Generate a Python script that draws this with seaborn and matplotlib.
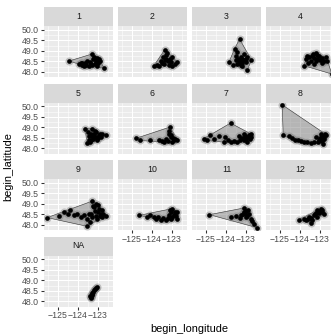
import numpy as np
import pandas as pd
import matplotlib
matplotlib.use("Agg")
import matplotlib.pyplot as plt
import seaborn as sns

sns.set_style("white")
plt.rcParams['font.family'] = ['Liberation Sans', 'DejaVu Sans']
plt.rcParams['axes.unicode_minus'] = True

# ---------------- data ----------------
months = ["1", "2", "3", "4", "5", "6", "7", "8", "9", "10", "11", "12", "NA"]

lon_m1 = [-124.45, -123.28, -122.70, -122.95, -123.95, -123.70, -123.37, -123.12, -123.53, -123.20, -123.03, -123.78, -123.85,
          -123.60, -123.45, -123.30, -123.15, -123.00, -123.10, -123.25, -123.40, -123.80, -123.65, -122.90, -123.05]
lat_m1 = [48.52, 48.86, 48.18, 48.62, 48.38, 48.30, 48.38, 48.46, 48.54, 48.70, 48.30, 48.41, 48.45,
          48.35, 48.30, 48.33, 48.38, 48.45, 48.55, 48.60, 48.47, 48.35, 48.45, 48.50, 48.68]
lon_m2 = [-123.37, -123.90, -122.73, -122.98, -123.57, -123.40, -123.07, -123.65, -123.23, -122.98, -123.30,
          -123.50, -123.35, -123.20, -123.10, -123.45, -123.30, -123.75, -123.15, -122.85]
lat_m2 = [49.05, 48.30, 48.46, 48.70, 48.54, 48.38, 48.46, 48.30, 48.89, 48.30, 48.62,
          48.45, 48.55, 48.50, 48.60, 48.70, 48.80, 48.35, 48.35, 48.40]
lon_m3 = [-123.32, -123.57, -123.85, -122.93, -122.73, -123.27, -123.10, -123.43, -123.02, -123.18, -123.52, -122.93, -123.65,
          -123.40, -123.30, -123.20, -123.10, -123.35, -123.50, -123.20, -123.00, -123.25, -123.45]
lat_m3 = [49.57, 49.10, 48.46, 48.10, 48.57, 48.70, 48.86, 48.38, 48.46, 48.30, 48.78, 48.70, 48.35,
          48.60, 48.50, 48.60, 48.55, 48.45, 48.55, 48.45, 48.60, 48.35, 48.95]
lon_m4 = [-123.80, -123.63, -123.22, -122.72, -122.63, -123.47, -123.13, -122.88, -123.30, -123.05, -123.55, -122.41,
          -123.70, -123.40, -123.30, -123.20, -123.00, -122.90, -123.60, -123.35, -122.80, -123.15]
lat_m4 = [48.30, 48.78, 48.89, 48.70, 48.54, 48.54, 48.62, 48.41, 48.38, 48.78, 48.70, 47.90,
          48.60, 48.75, 48.65, 48.50, 48.55, 48.65, 48.45, 48.85, 48.50, 48.80]
lon_m5 = [-123.65, -123.28, -123.53, -122.62, -123.37, -123.12, -123.20, -122.95, -123.37, -123.03, -122.78, -123.45,
          -123.30, -123.20, -123.10, -123.25, -123.00, -122.90, -123.45, -123.50, -123.15, -122.85, -123.40]
lat_m5 = [48.94, 48.94, 48.25, 48.62, 48.70, 48.78, 48.54, 48.62, 48.38, 48.41, 48.70, 48.57,
          48.60, 48.70, 48.55, 48.45, 48.50, 48.70, 48.40, 48.80, 48.85, 48.55, 48.30]
lon_m6 = [-124.77, -123.10, -124.07, -122.73, -123.15, -123.40, -123.65, -123.07, -122.90, -124.57,
          -123.30, -123.20, -122.95, -123.05, -123.50, -122.85, -123.15, -123.00]
lat_m6 = [48.49, 49.02, 48.41, 48.41, 48.70, 48.30, 48.38, 48.54, 48.38, 48.38,
          48.45, 48.35, 48.50, 48.65, 48.35, 48.45, 48.85, 48.30]
lon_m7 = [-125.10, -124.77, -123.77, -122.77, -122.80, -124.02, -124.35, -123.35, -124.10, -123.77, -123.43, -123.10, -123.10, -122.93, -124.93,
          -123.00, -122.85, -123.20, -122.95, -123.30, -123.60, -122.75, -123.05, -124.60, -123.90]
lat_m7 = [48.46, 48.65, 49.21, 48.70, 48.46, 48.54, 48.57, 48.57, 48.30, 48.30, 48.30, 48.38, 48.70, 48.54, 48.38,
          48.45, 48.62, 48.50, 48.30, 48.40, 48.35, 48.55, 48.60, 48.45, 48.40]
lon_m8 = [-124.88, -124.83, -124.55, -124.22, -123.97, -123.63, -123.30, -123.03, -122.95, -122.70, -122.85, -123.20, -122.78,
          -123.10, -122.90, -122.80, -123.00, -122.75, -123.45, -123.80, -124.10, -124.40, -122.90]
lat_m8 = [50.08, 48.62, 48.59, 48.41, 48.35, 48.30, 48.30, 48.38, 48.70, 48.62, 48.22, 48.54, 48.46,
          48.30, 48.35, 48.55, 48.50, 48.70, 48.28, 48.30, 48.38, 48.50, 48.60]
lon_m9 = [-125.53, -123.28, -123.57, -122.62, -124.95, -124.70, -124.37, -124.03, -123.70, -123.37, -123.20, -122.95, -122.78, -123.03, -123.53, -124.20, -123.12, -122.87,
          -123.00, -122.80, -123.10, -123.30, -123.45, -122.90, -123.15, -123.00, -123.25, -124.50, -123.85, -123.40, -122.75]
lat_m9 = [48.35, 49.14, 47.94, 48.43, 48.41, 48.62, 48.70, 48.54, 48.46, 48.54, 48.86, 48.78, 48.38, 48.30, 48.30, 48.46, 49.02, 48.54,
          48.60, 48.70, 48.45, 48.40, 48.50, 48.45, 48.65, 48.95, 48.90, 48.50, 48.40, 48.15, 48.50]
lon_m10 = [-124.62, -122.98, -122.73, -122.73, -124.07, -123.82, -123.57, -123.32, -123.15, -122.90, -124.23, -123.07,
           -123.00, -122.85, -123.20, -123.45, -123.70, -122.80, -123.05, -123.90, -123.10]
lat_m10 = [48.46, 48.78, 48.62, 48.30, 48.46, 48.30, 48.22, 48.25, 48.46, 48.46, 48.38, 48.62,
           48.40, 48.60, 48.35, 48.35, 48.40, 48.45, 48.30, 48.40, 48.70]
lon_m11 = [-124.82, -123.10, -122.45, -123.02, -123.27, -123.52, -122.85, -122.77, -123.10, -123.77,
           -122.95, -123.15, -123.00, -122.70, -122.60, -123.30, -122.90, -123.05]
lat_m11 = [48.49, 48.81, 47.87, 48.38, 48.46, 48.41, 48.54, 48.30, 48.62, 48.38,
           48.45, 48.50, 48.65, 48.20, 48.05, 48.35, 48.70, 48.55]
lon_m12 = [-124.05, -123.47, -123.13, -122.88, -122.78, -123.80, -123.55, -123.30, -123.05, -123.38,
           -123.60, -123.20, -123.00, -122.90, -123.45, -123.15, -122.95, -123.70, -123.25]
lat_m12 = [48.25, 48.10, 48.70, 48.73, 48.54, 48.30, 48.38, 48.46, 48.57, 48.22,
           48.30, 48.55, 48.65, 48.60, 48.35, 48.40, 48.75, 48.25, 48.50]
lon_mNA = [-123.40, -123.07, -123.23, -123.32, -123.15, -123.35, -123.28, -123.20, -123.12, -123.30, -123.37]
lat_mNA = [48.24, 48.71, 48.47, 48.35, 48.60, 48.15, 48.30, 48.55, 48.65, 48.40, 48.20]

x_breaks = [-125, -124, -123]
x_labels = ["\u2212125", "\u2212124", "\u2212123"]
y_breaks = [48.0, 48.5, 49.0, 49.5, 50.0]
y_labels = ["48.0", "48.5", "49.0", "49.5", "50.0"]

lon_lists = [lon_m1, lon_m2, lon_m3, lon_m4, lon_m5, lon_m6, lon_m7, lon_m8,
             lon_m9, lon_m10, lon_m11, lon_m12, lon_mNA]
lat_lists = [lat_m1, lat_m2, lat_m3, lat_m4, lat_m5, lat_m6, lat_m7, lat_m8,
             lat_m9, lat_m10, lat_m11, lat_m12, lat_mNA]

rows = []
for m, lo, la in zip(months, lon_lists, lat_lists):
    for a, b in zip(lo, la):
        rows.append((m, a, b))
df = pd.DataFrame(rows, columns=["month", "begin_longitude", "begin_latitude"])

# ggplot-like 5% expansion
def expand(v):
    lo, hi = float(np.min(v)), float(np.max(v))
    d = (hi - lo) * 0.05
    return lo - d, hi + d

xlim = expand(df["begin_longitude"])
ylim = expand(df["begin_latitude"])

def hull(pts):
    pts = sorted(set(pts))
    if len(pts) < 3:
        return pts
    def cross(o, a, b):
        return (a[0]-o[0])*(b[1]-o[1]) - (a[1]-o[1])*(b[0]-o[0])
    lower, upper = [], []
    for p in pts:
        while len(lower) >= 2 and cross(lower[-2], lower[-1], p) <= 0:
            lower.pop()
        lower.append(p)
    for p in reversed(pts):
        while len(upper) >= 2 and cross(upper[-2], upper[-1], p) <= 0:
            upper.pop()
        upper.append(p)
    return lower[:-1] + upper[:-1]

# ---------------- layout ----------------
W, H, DPI = 331, 335, 72
fig = plt.figure(figsize=(W / DPI, H / DPI), dpi=DPI)

def px_axes(left, top, w, h):
    return fig.add_axes([left / W, 1 - (top + h) / H, w / W, h / H])

PW, PH = 69, 51
STRIP = 19
col_left = [44, 118, 192, 266]
row_top = [26, 102.5, 179, 255.5]

x_minor = [-125.5, -124.5, -123.5, -122.5]
y_minor = [48.25, 48.75, 49.25, 49.75]

n = len(months)
for i, m in enumerate(months):
    r, c = divmod(i, 4)
    L, T = col_left[c], row_top[r]
    ax = px_axes(L, T, PW, PH)
    ax.set_facecolor("#EBEBEB")
    for s in ax.spines.values():
        s.set_visible(False)
    sub = df[df["month"] == m]
    h = hull(list(zip(sub["begin_longitude"], sub["begin_latitude"])))
    if len(h) >= 3:
        hx = [p[0] for p in h]
        hy = [p[1] for p in h]
        ax.fill(hx, hy, facecolor="#808080", alpha=0.5, edgecolor="none", zorder=2)
        ax.fill(hx, hy, facecolor="none", edgecolor="#3A3A3A", linewidth=0.6, zorder=2.5)
    sns.scatterplot(data=sub, x="begin_longitude", y="begin_latitude", ax=ax,
                    s=66, color="#7A7A7A", alpha=0.4, linewidth=0, legend=False, zorder=3)
    sns.scatterplot(data=sub, x="begin_longitude", y="begin_latitude", ax=ax,
                    s=22, color="black", linewidth=0, legend=False, zorder=4)
    ax.set_xlim(*xlim)
    ax.set_ylim(*ylim)
    ax.set_xlabel("")
    ax.set_ylabel("")
    ax.set_xticks(x_breaks)
    ax.set_yticks(y_breaks)
    ax.set_xticks(x_minor, minor=True)
    ax.set_yticks(y_minor, minor=True)
    ax.grid(True, which="major", color="white", linewidth=1.07)
    ax.grid(True, which="minor", color="white", linewidth=0.53)
    ax.set_axisbelow(True)
    show_x = (i + 4 >= n)
    show_y = (c == 0)
    ax.set_xticklabels(x_labels if show_x else [])
    ax.set_yticklabels(y_labels if show_y else [])
    ax.tick_params(axis="x", which="major", bottom=show_x, labelbottom=show_x,
                   length=2.75, width=1.07, color="#333333", pad=2.2,
                   labelsize=8.8, labelcolor="#4D4D4D")
    ax.tick_params(axis="y", which="major", left=show_y, labelleft=show_y,
                   length=2.75, width=1.07, color="#333333", pad=2.2,
                   labelsize=8.8, labelcolor="#4D4D4D")
    ax.tick_params(which="minor", length=0)

    sax = px_axes(L, T - STRIP, PW, STRIP)
    sax.set_facecolor("#D9D9D9")
    sax.set_xticks([])
    sax.set_yticks([])
    for s in sax.spines.values():
        s.set_visible(False)
    sax.text(0.5, 0.5, m, ha="center", va="center", fontsize=8.8,
             color="#1A1A1A", transform=sax.transAxes)

fig.text(189.5 / W, 1 - 329 / H, "begin_longitude", ha="center", va="center",
         fontsize=11, color="black")
fig.text(8 / W, 1 - 166.5 / H, "begin_latitude", ha="center", va="center",
         rotation=90, fontsize=11, color="black")

fig.savefig("out.png", dpi=DPI, facecolor="white")
